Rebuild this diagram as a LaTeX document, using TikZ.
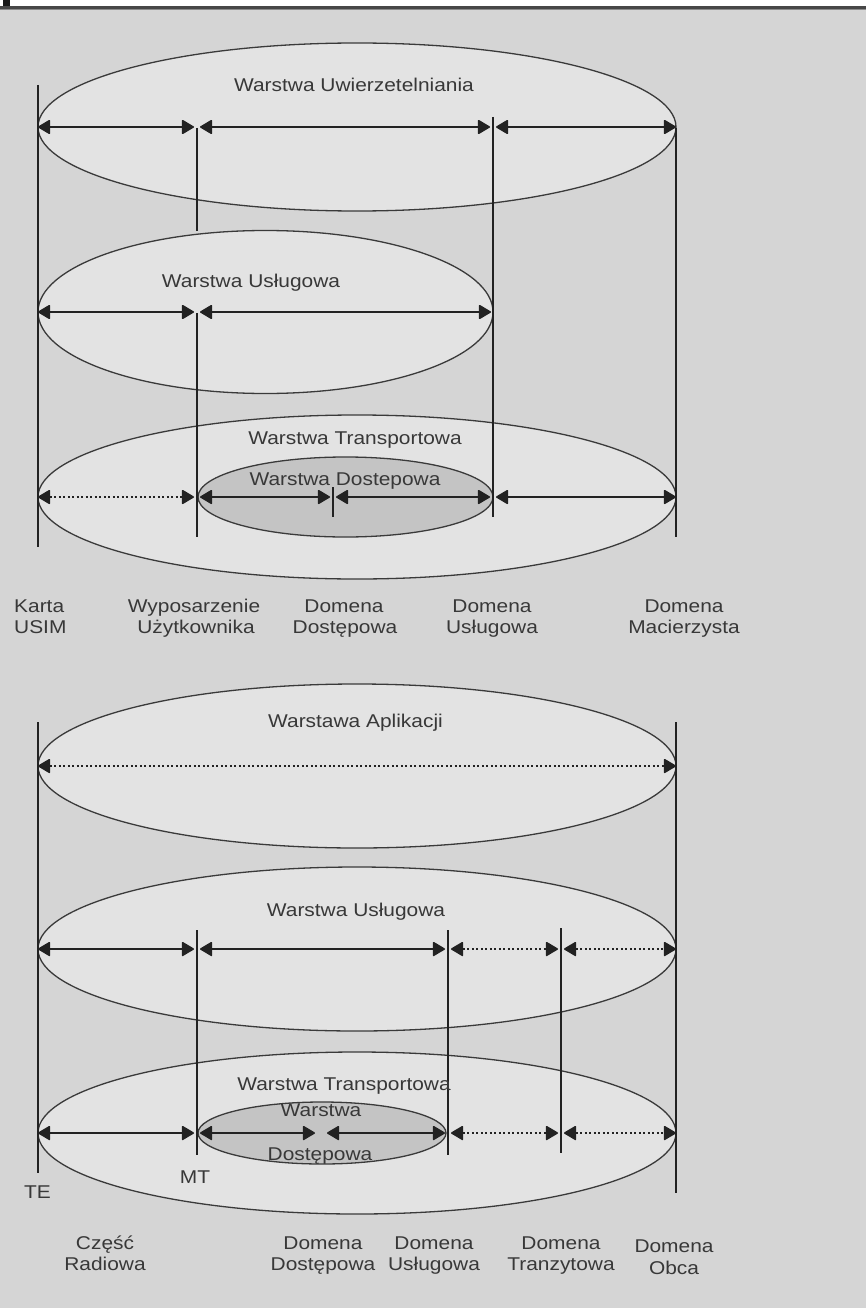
\documentclass[tikz,border=0pt]{standalone}
\usepackage{fontspec}
\usetikzlibrary{arrows.meta,shapes.geometric}
\newfontfamily\labfont[FakeStretch=1.13]{Liberation Sans}
\definecolor{pagebg}{HTML}{D5D5D5}
\definecolor{layerfill}{HTML}{E3E3E3}
\definecolor{accessfill}{HTML}{C4C4C4}
\definecolor{ink}{HTML}{222222}
\definecolor{rim}{HTML}{3A3A3A}
\definecolor{topbar}{HTML}{474747}
\definecolor{topedge}{HTML}{8A8A8A}

\begin{document}
\begin{tikzpicture}[x=1pt,y=-1pt,
  layer/.style={ellipse, draw=rim, line width=1.3pt, fill=layerfill, inner sep=0pt, outer sep=0pt},
  access/.style={layer, fill=accessfill},
  domline/.style={draw=ink, line width=1.4pt},
  span/.style={draw=ink, line width=1.6pt,
    {Triangle[length=13pt,width=15pt,round]}-{Triangle[length=13pt,width=15pt,round]}},
  dotspan/.style={span, dash pattern=on 2pt off 2.5pt},
  lbl/.style={font=\labfont\fontsize{18.5pt}{21.5pt}\selectfont, text=ink!90, anchor=base, inner sep=0pt},
]
\useasboundingbox (0,0) rectangle (866,1308);

% page frame
\fill[white] (0,0) rectangle (866,6);
\fill[topbar] (0,6) rectangle (866,9);
\fill[topedge] (0,9) rectangle (866,10);
\fill[pagebg] (0,10) rectangle (866,1308);
\fill[black!90] (3,0) rectangle (10,6);

% ---------- upper model: layers ----------
\node[layer, minimum width=638pt, minimum height=168pt] (auth) at (357,127) {};
\node[layer, minimum width=455pt, minimum height=163pt] (serv1) at (265.5,312) {};
\node[layer, minimum width=638pt, minimum height=164pt] (trans1) at (357,497) {};
\node[access, minimum width=295pt, minimum height=80pt] (acc1) at (345.5,497) {};

% domain boundaries
\draw[domline] (38,85) -- (38,547);
\draw[domline] (197,128) -- (197,231);
\draw[domline] (197,313) -- (197,537);
\draw[domline] (493,117) -- (493,517);
\draw[domline] (676,128) -- (676,537);
\draw[domline] (333,487) -- (333,517);

% span end points
\coordinate (a1) at (38,127);  \coordinate (b1) at (197,127);
\coordinate (d1) at (493,127); \coordinate (e1) at (676,127);
\coordinate (a2) at (38,312);  \coordinate (b2) at (197,312);
\coordinate (d2) at (493,312);
\coordinate (a3) at (38,497);  \coordinate (b3) at (197,497);
\coordinate (c3) at (333,497); \coordinate (d3) at (493,497);
\coordinate (e3) at (676,497);

\draw[span, shorten >=3pt] (a1) -- (b1);
\draw[span, shorten <=3pt, shorten >=3pt] (b1) -- (d1);
\draw[span, shorten <=3pt] (d1) -- (e1);
\draw[span, shorten >=3pt] (a2) -- (b2);
\draw[span, shorten <=3pt, shorten >=2pt] (b2) -- (d2);
\draw[dotspan, shorten >=3pt] (a3) -- (b3);
\draw[span, shorten <=3pt, shorten >=3pt] (b3) -- (c3);
\draw[span, shorten <=3pt, shorten >=3pt] (c3) -- (d3);
\draw[span, shorten <=3pt] (d3) -- (e3);

% layer names
\node[lbl] (tAuth) at (354,92) {Warstwa Uwierzetelniania};
\node[lbl] (tServ1) at (251,287) {Warstwa Usługowa};
\node[lbl] (tTrans1) at (355,444) {Warstwa Transportowa};
\node[lbl] (tAcc1) at (345,485) {Warstwa Dostepowa};

% domain names
\node[lbl, anchor=base west] (dK1) at (14,612) {Karta};
\node[lbl, anchor=base west] (dK2) at (14,633) {USIM};
\node[lbl] (dW1) at (194,612) {Wyposarzenie};
\node[lbl] (dW2) at (196,633) {Użytkownika};
\node[lbl] (dD1) at (344,612) {Domena};
\node[lbl] (dD2) at (345,633) {Dostępowa};
\node[lbl] (dU1) at (492,612) {Domena};
\node[lbl] (dU2) at (492,633) {Usługowa};
\node[lbl] (dM1) at (684,612) {Domena};
\node[lbl] (dM2) at (684,633) {Macierzysta};

% ---------- lower model: layers ----------
\node[layer, minimum width=638pt, minimum height=164pt] (app) at (357,766) {};
\node[layer, minimum width=638pt, minimum height=164pt] (serv2) at (357,949) {};
\node[layer, minimum width=638pt, minimum height=162pt] (trans2) at (357,1133) {};
\node[access, minimum width=248pt, minimum height=62pt] (acc2) at (322,1133) {};

% domain boundaries
\draw[domline] (38,722) -- (38,1173);
\draw[domline] (197,930) -- (197,1155);
\draw[domline] (448,930) -- (448,1155);
\draw[domline] (561,928) -- (561,1153);
\draw[domline] (676,722) -- (676,1193);

% span end points
\coordinate (a4) at (38,766);  \coordinate (e4) at (676,766);
\coordinate (a5) at (38,949);  \coordinate (b5) at (197,949);
\coordinate (f5) at (448,949); \coordinate (g5) at (561,949);
\coordinate (e5) at (676,949);
\coordinate (a6) at (38,1133);  \coordinate (b6) at (197,1133);
\coordinate (m6) at (321,1133); \coordinate (f6) at (448,1133);
\coordinate (g6) at (561,1133); \coordinate (e6) at (676,1133);

\draw[dotspan] (a4) -- (e4);
\draw[span, shorten >=3pt] (a5) -- (b5);
\draw[span, shorten <=3pt, shorten >=3pt] (b5) -- (f5);
\draw[dotspan, shorten <=3pt, shorten >=3pt] (f5) -- (g5);
\draw[dotspan, shorten <=3pt] (g5) -- (e5);
\draw[span, shorten >=3pt] (a6) -- (b6);
\draw[span, shorten <=3pt, shorten >=6pt] (b6) -- (m6);
\draw[span, shorten <=6pt, shorten >=3pt] (m6) -- (f6);
\draw[dotspan, shorten <=3pt, shorten >=3pt] (f6) -- (g6);
\draw[dotspan, shorten <=3pt] (g6) -- (e6);

% layer names
\node[lbl] (tApp) at (355.5,727) {Warstawa Aplikacji};
\node[lbl] (tServ2) at (356,916) {Warstwa Usługowa};
\node[lbl] (tTrans2) at (344,1090) {Warstwa Transportowa};
\node[lbl] (tAcc2a) at (321,1116) {Warstwa};
\node[lbl] (tAcc2b) at (320,1160) {Dostępowa};
\node[lbl] (tMT) at (195,1183) {MT};
\node[lbl] (tTE) at (37.5,1198) {TE};

% domain names
\node[lbl] (eR1) at (105,1249) {Część};
\node[lbl] (eR2) at (105,1270) {Radiowa};
\node[lbl] (eD1) at (323,1249) {Domena};
\node[lbl] (eD2) at (323,1270) {Dostępowa};
\node[lbl] (eU1) at (434,1249) {Domena};
\node[lbl] (eU2) at (434,1270) {Usługowa};
\node[lbl] (eT1) at (561,1249) {Domena};
\node[lbl] (eT2) at (561,1270) {Tranzytowa};
\node[lbl] (eO1) at (674,1252) {Domena};
\node[lbl] (eO2) at (674,1274) {Obca};
\end{tikzpicture}
\end{document}
